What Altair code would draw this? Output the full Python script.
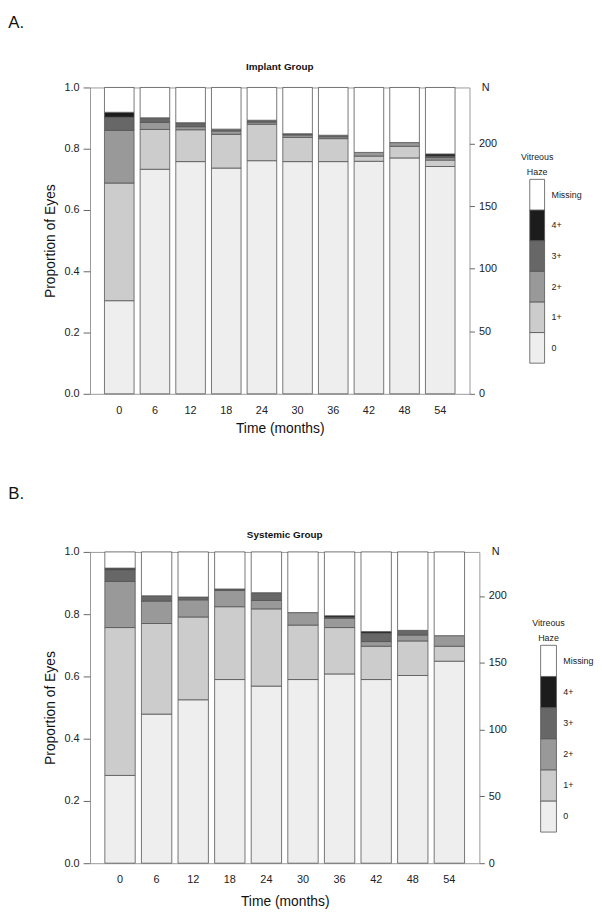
import altair as alt
import pandas as pd

months = [0, 6, 12, 18, 24, 30, 36, 42, 48, 54]
categories = ["0", "1+", "2+", "3+", "4+", "Missing"]
cat_colors = ["#eeeeee", "#cccccc", "#999999", "#676767", "#1c1c1c", "#ffffff"]

# Implant group: proportion of eyes per haze grade (Missing = remainder)
implant_0 = [0.304, 0.733, 0.758, 0.737, 0.761, 0.758, 0.758, 0.759, 0.770, 0.742]
implant_1 = [0.384, 0.130, 0.104, 0.110, 0.119, 0.079, 0.075, 0.017, 0.038, 0.021]
implant_2 = [0.172, 0.023, 0.010, 0.011, 0.007, 0.008, 0.006, 0.012, 0.012, 0.008]
implant_3 = [0.043, 0.015, 0.013, 0.006, 0.006, 0.004, 0.005, 0.000, 0.000, 0.005]
implant_4 = [0.016, 0.000, 0.000, 0.000, 0.000, 0.000, 0.000, 0.000, 0.000, 0.007]
implant_n = 245

# Systemic group
systemic_0 = [0.282, 0.479, 0.525, 0.590, 0.569, 0.590, 0.608, 0.590, 0.603, 0.649]
systemic_1 = [0.475, 0.291, 0.266, 0.234, 0.248, 0.175, 0.149, 0.107, 0.111, 0.048]
systemic_2 = [0.148, 0.072, 0.055, 0.052, 0.027, 0.040, 0.030, 0.015, 0.019, 0.034]
systemic_3 = [0.038, 0.017, 0.009, 0.005, 0.025, 0.000, 0.003, 0.027, 0.015, 0.000]
systemic_4 = [0.005, 0.000, 0.000, 0.000, 0.000, 0.000, 0.005, 0.005, 0.000, 0.000]
systemic_n = 233

n_ticks = [0, 50, 100, 150, 200]
y_ticks = [0.0, 0.2, 0.4, 0.6, 0.8, 1.0]
legend_header = ["Vitreous", "Haze"]

FONT = "Liberation Sans"
BAR_STROKE = "#555555"


def build_df(series):
    rows = []
    for i, m in enumerate(months):
        vals = [s[i] for s in series]
        vals.append(max(0.0, 1.0 - sum(vals)))
        for k, (c, v) in enumerate(zip(categories, vals)):
            if v > 0:
                rows.append({"month": m, "cat": c, "value": v, "order": k})
    return pd.DataFrame(rows)


color_scale = alt.Scale(domain=categories, range=cat_colors)


def main_panel(series, n_total, title, width, height, title_offset, xtitle_pad):
    df = build_df(series)
    bars = alt.Chart(df).mark_bar(stroke=BAR_STROKE, strokeWidth=0.8).encode(
        x=alt.X("month:O", sort=months,
                scale=alt.Scale(paddingInner=0.17, paddingOuter=0.405),
                axis=alt.Axis(title="Time (months)", labelAngle=0, ticks=False,
                              domain=False, labelPadding=11, titlePadding=xtitle_pad,
                              labelFontSize=11, titleFontSize=14,
                              titleFontWeight="normal", labelColor="#222",
                              titleColor="#111")),
        y=alt.Y("value:Q", stack="zero",
                scale=alt.Scale(domain=[0, 1], nice=False),
                axis=alt.Axis(title="Proportion of Eyes", values=y_ticks,
                              format=".1f", grid=False, domain=False,
                              tickSize=7, tickColor="#666", labelPadding=4,
                              labelFontSize=11, titleFontSize=14,
                              titleFontWeight="normal", titlePadding=7,
                              labelColor="#222", titleColor="#111")),
        color=alt.Color("cat:N", scale=color_scale, legend=None),
        order=alt.Order("order:Q"),
    )
    n_layer = alt.Chart(pd.DataFrame({"n": [0, n_total]})).mark_point(opacity=0).encode(
        y=alt.Y("n:Q", scale=alt.Scale(domain=[0, n_total], nice=False),
                axis=alt.Axis(orient="right", values=n_ticks, grid=False,
                              domain=False, tickSize=5, tickColor="#666",
                              labelPadding=4, labelFontSize=11,
                              labelColor="#222", title="N", titleAngle=0,
                              titleX=12, titleY=0, titleAlign="left",
                              titleBaseline="middle", titleFontSize=11,
                              titleFontWeight="normal", titleColor="#222"))
    )
    return alt.layer(bars, n_layer).resolve_scale(y="independent").properties(
        width=width, height=height,
        title=alt.Title(title, fontSize=10, fontWeight="bold", frame="group",
                        anchor="middle", offset=title_offset, color="#111"),
    )


def legend_panel(height, width):
    leg = pd.DataFrame({
        "cat": categories,
        "lo": [i + 1 for i in range(len(categories))],
        "hi": [i + 2 for i in range(len(categories))],
        "mid": [i + 1.5 for i in range(len(categories))],
        "x0": [0] * len(categories),
        "x1": [1] * len(categories),
    })
    xs = alt.Scale(domain=[0, 1])
    ys = alt.Scale(domain=[0, 10], nice=False)
    rect = alt.Chart(leg).mark_rect(stroke=BAR_STROKE, strokeWidth=0.8).encode(
        x=alt.X("x0:Q", scale=xs, axis=None), x2="x1",
        y=alt.Y("lo:Q", scale=ys, axis=None), y2="hi",
        color=alt.Color("cat:N", scale=color_scale, legend=None),
    )
    labels = alt.Chart(leg).mark_text(align="left", baseline="middle", dx=7,
                                      fontSize=9, color="#222").encode(
        x=alt.X("x1:Q", scale=xs, axis=None),
        y=alt.Y("mid:Q", scale=ys, axis=None),
        text="cat:N",
    )
    head = pd.DataFrame({"t": legend_header,
                         "y": [len(categories) + 1.72, len(categories) + 1.24],
                         "x": [0.5, 0.5]})
    header = alt.Chart(head).mark_text(align="center", baseline="middle",
                                       fontSize=9, color="#222").encode(
        x=alt.X("x:Q", scale=xs, axis=None),
        y=alt.Y("y:Q", scale=ys, axis=None),
        text="t:N",
    )
    return alt.layer(rect, labels, header).properties(
        width=width, height=height, view=alt.ViewBackground(stroke=None))


implant_series = [implant_0, implant_1, implant_2, implant_3, implant_4]
systemic_series = [systemic_0, systemic_1, systemic_2, systemic_3, systemic_4]

row_a = alt.hconcat(
    main_panel(implant_series, implant_n, "Implant Group", 384, 310, 10, 6),
    legend_panel(310, 15),
    spacing=24,
).properties(title=alt.Title("A.", anchor="start", fontSize=17,
                             fontWeight="normal", dx=-35, offset=30, color="#111"))

row_b = alt.hconcat(
    main_panel(systemic_series, systemic_n, "Systemic Group", 394, 315, 6, 10),
    legend_panel(315, 16),
    spacing=25,
).properties(title=alt.Title("B.", anchor="start", fontSize=17,
                             fontWeight="normal", dx=-35, offset=27, color="#111"))

chart = alt.vconcat(row_a, row_b, spacing=49).properties(
    padding={"left": 0, "top": 0, "right": 0, "bottom": 0}
).configure(font=FONT).configure_view(stroke="#999999", strokeWidth=1)

chart.save("out.html", embed_options={"renderer": "svg", "actions": False})
